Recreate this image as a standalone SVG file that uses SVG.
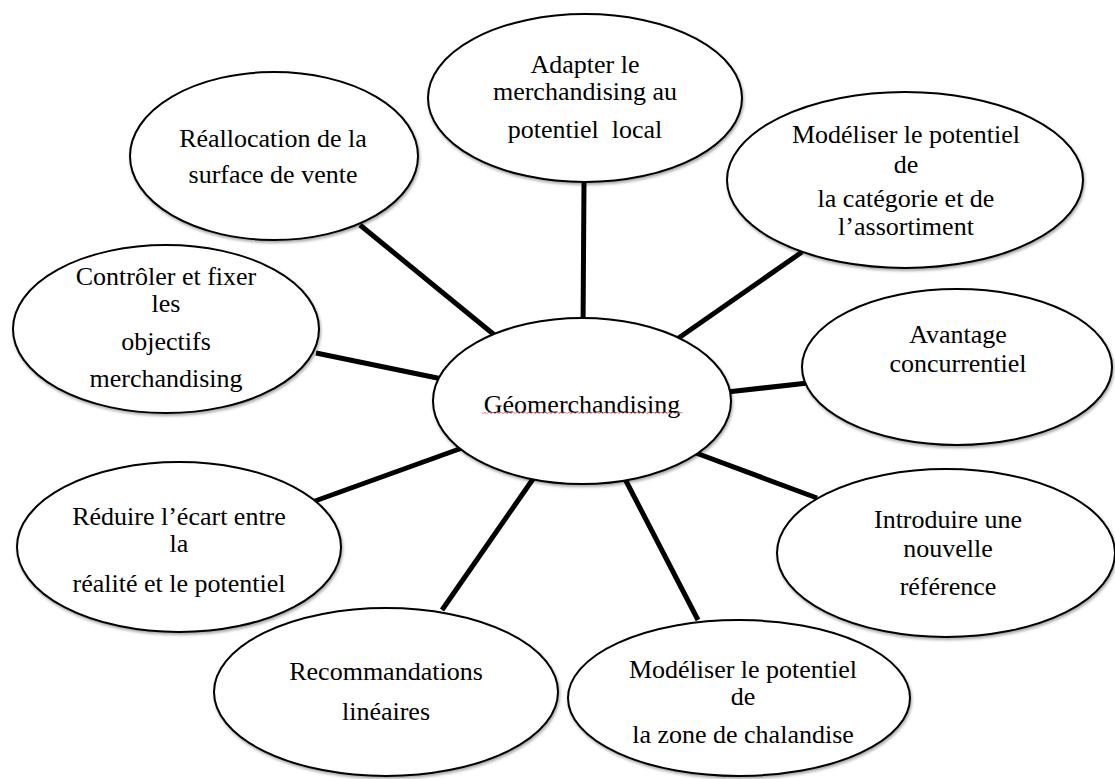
<svg xmlns="http://www.w3.org/2000/svg" width="1115" height="779" viewBox="0 0 1115 779">
<style>
.n{fill:#fff;stroke:#000;stroke-width:2;filter:url(#sh)}
text{font-family:'Liberation Serif','Times New Roman',Times,serif;font-size:26px;fill:#000;text-anchor:middle;white-space:pre}
.c line{stroke:#000;stroke-width:5}
</style>
<defs>
<filter id="sh" x="-10%" y="-10%" width="120%" height="130%">
<feGaussianBlur in="SourceAlpha" stdDeviation="1.5"/>
<feOffset dx="1" dy="2" result="b"/>
<feComponentTransfer><feFuncA type="linear" slope="0.35"/></feComponentTransfer>
<feMerge><feMergeNode/><feMergeNode in="SourceGraphic"/></feMerge>
</filter>
<pattern id="sq" width="4" height="3" patternUnits="userSpaceOnUse">
<path d="M0,2 L1,1 L3,2.5 L4,2" fill="none" stroke="#e46a6a" stroke-width="0.8"/>
</pattern>
</defs>
<rect width="1115" height="779" fill="#fff"/>
<g id="connectors" class="c">
<line x1="584" y1="182" x2="583" y2="330"/>
<line x1="360" y1="225" x2="503" y2="342"/>
<line x1="802" y1="252" x2="670" y2="344"/>
<line x1="316" y1="353" x2="447" y2="380"/>
<line x1="727" y1="392" x2="808" y2="383"/>
<line x1="315" y1="501" x2="462" y2="448"/>
<line x1="442" y1="610" x2="533" y2="479"/>
<line x1="698" y1="620" x2="625" y2="479"/>
<line x1="696" y1="453" x2="817" y2="498"/>
</g>
<g id="n-top" font-family="Liberation Serif, serif"><ellipse class="n" cx="585" cy="98" rx="157" ry="84"/>
<text x="585" y="73">Adapter le</text><text x="585" y="100">merchandising au</text><text x="585" y="138">potentiel  local</text></g>
<g id="n-realloc"><ellipse class="n" cx="274" cy="156" rx="144" ry="84"/>
<text x="273" y="147">Réallocation de la</text><text x="273" y="183">surface de vente</text></g>
<g id="n-controler"><ellipse class="n" cx="166" cy="329" rx="153" ry="84"/>
<text x="166" y="285">Contrôler et fixer</text><text x="166" y="312">les</text><text x="166" y="350">objectifs</text><text x="166" y="387">merchandising</text></g>
<g id="n-categorie"><ellipse class="n" cx="905" cy="180" rx="178" ry="88"/>
<text x="906" y="143">Modéliser le potentiel</text><text x="906" y="173">de</text><text x="906" y="207">la catégorie et de</text><text x="906" y="235">l’assortiment</text></g>
<g id="n-avantage"><ellipse class="n" cx="957" cy="367" rx="155" ry="78"/>
<text x="958" y="343">Avantage</text><text x="958" y="372">concurrentiel</text></g>
<g id="n-center"><ellipse class="n" cx="582" cy="401" rx="149" ry="83"/>
<text x="582" y="413">Géomerchandising</text>
<rect x="482" y="412" width="201" height="3" fill="url(#sq)"/></g>
<g id="n-introduire"><ellipse class="n" cx="946" cy="553" rx="169" ry="84"/>
<text x="948" y="528">Introduire une</text><text x="948" y="557">nouvelle</text><text x="948" y="595">référence</text></g>
<g id="n-chalandise"><ellipse class="n" cx="739" cy="698" rx="171" ry="78"/>
<text x="743" y="678">Modéliser le potentiel</text><text x="743" y="705">de</text><text x="743" y="743">la zone de chalandise</text></g>
<g id="n-reduire"><ellipse class="n" cx="179" cy="547" rx="162" ry="85"/>
<text x="179" y="525">Réduire l’écart entre</text><text x="179" y="552">la</text><text x="179" y="592">réalité et le potentiel</text></g>
<g id="n-recommandations"><ellipse class="n" cx="386" cy="692" rx="172" ry="84"/>
<text x="386" y="680">Recommandations</text><text x="386" y="720">linéaires</text></g>
</svg>
